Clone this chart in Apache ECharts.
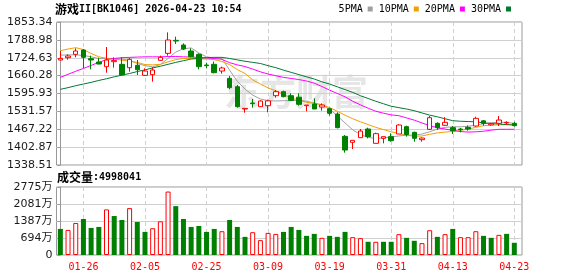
<!DOCTYPE html>
<html><head><meta charset="utf-8">
<script src="https://cdn.jsdelivr.net/npm/echarts@6/dist/echarts.min.js"></script>
<style>html,body{margin:0;padding:0;background:#fff}#c{width:578px;height:276px}</style>
</head><body><div id="c"></div>
<script>
const dates = ['01-21','01-22','01-23','01-26','01-27','01-28','01-29','01-30','02-02','02-03',
 '02-04','02-05','02-06','02-09','02-10','02-11','02-12','02-13','02-24','02-25',
 '02-26','02-27','03-02','03-03','03-04','03-05','03-06','03-09','03-10','03-11',
 '03-12','03-13','03-16','03-17','03-18','03-19','03-20','03-23','03-24','03-25',
 '03-26','03-27','03-30','03-31','04-01','04-02','04-03','04-07','04-08','04-09',
 '04-10','04-13','04-14','04-15','04-16','04-17','04-20','04-21','04-22','04-23'];
const opens = [1716.5,1724.9,1736.9,1752.5,1721.3,1709.3,1692.5,1710.5,1700.9,1688.9,
 1697.3,1661.3,1663.7,1715.3,1740.5,1787.3,1770.5,1748.9,1736.9,1698.5,
 1700.9,1676.9,1650.5,1620.5,1540.1,1561.7,1548.5,1552.1,1588.1,1602.5,
 1588.1,1582.7,1552.1,1558.1,1547.3,1541.3,1522.1,1441.7,1420.1,1436.9,
 1468.1,1416.5,1434.5,1440.5,1450.1,1476.5,1456.1,1429.7,1466.9,1488.5,
 1481.3,1472.9,1468.0,1474.0,1478.9,1497.5,1483.0,1488.5,1490.0,1488.5];
const closes = [1722.5,1730.9,1748.9,1726.1,1716.5,1702.1,1716.5,1715.0,1662.5,1718.9,
 1681.7,1676.9,1680.5,1726.1,1788.5,1784.9,1756.1,1728.5,1692.5,1696.1,
 1670.9,1687.7,1616.9,1548.5,1542.5,1559.3,1568.9,1569.5,1602.5,1584.5,
 1571.3,1556.9,1554.5,1540.1,1554.5,1524.5,1472.9,1392.5,1427.3,1460.9,
 1440.5,1451.3,1440.5,1426.1,1482.5,1448.0,1434.5,1435.5,1508.9,1472.9,
 1492.1,1462.0,1466.0,1468.0,1506.5,1488.5,1487.0,1500.5,1492.0,1480.1];
const lows = [1715.3,1717.7,1726.1,1686.5,1682.9,1700.9,1670.9,1688.9,1662.5,1674.5,
 1662.5,1658.9,1638.5,1712.9,1732.1,1774.1,1752.5,1726.1,1682.9,1686.5,
 1668.5,1667.3,1610.9,1544.9,1526.9,1544.9,1548.5,1528.1,1580.9,1582.1,
 1568.9,1552.1,1531.7,1540.1,1534.1,1516.1,1470.5,1382.9,1396.1,1436.9,
 1434.5,1416.5,1416.5,1422.5,1450.1,1440.5,1422.5,1422.5,1464.5,1464.5,
 1480.1,1450.1,1456.0,1462.0,1476.5,1480.1,1480.0,1479.0,1483.0,1476.5];
const highs = [1748.9,1736.9,1758.5,1756.1,1732.1,1724.9,1763.3,1726.1,1726.1,1724.9,
 1716.5,1686.5,1690.1,1732.1,1816.1,1800.5,1776.5,1758.5,1740.5,1706.9,
 1710.5,1692.5,1658.9,1626.5,1542.5,1576.1,1571.3,1573.7,1608.5,1606.1,
 1596.5,1596.5,1554.5,1578.5,1560.5,1545.0,1528.1,1446.5,1427.3,1468.1,
 1472.9,1454.9,1440.5,1452.5,1484.9,1480.1,1458.5,1438.1,1514.9,1492.1,
 1510.7,1478.9,1472.0,1481.0,1512.5,1500.5,1490.0,1514.9,1496.0,1494.5];
// volume in 万
const volumes = [1064,1023,1307,1469,1105,1145,1861,1590,1428,1913,
 1347,943,1092,1375,2589,1994,1469,1145,1185,943,
 1064,971,1428,1145,740,930,607,902,862,943,
 1145,1023,781,862,700,781,741,944,728,688,
 539,539,539,539,850,700,580,485,1011,741,
 850,1065,728,728,971,781,700,822,862,499];
const volUp = [0,1,1,0,0,0,1,0,0,1, 0,0,1,1,1,0,0,0,0,0, 0,1,0,0,0,1,1,1,1,0,
 0,0,0,0,1,0,0,0,1,1, 0,1,0,0,1,0,0,1,1,0, 1,0,1,1,1,0,0,1,0,0];
const ma5 = [1734,1735,1735,1733,1728,1722,1722,1722,1720,1715,
 1704,1696,1692,1700,1722,1745,1757,1760,1742,1728,
 1724,1722,1680,1640,1612,1590,1576,1570,1569,1570,
 1570,1572,1568,1562,1554,1540,1515,1490,1465,1448,
 1438,1434,1436,1440,1443,1446,1446,1450,1458,1468,
 1474,1476,1476,1478,1482,1487,1491,1492,1492,1488];
const ma10 = [1750,1756,1761,1754,1740,1728,1723,1720,1716,1712,
 1708,1700,1699,1701,1710,1718,1722,1722,1720,1720,
 1718,1711,1700,1682,1668,1645,1630,1616,1606,1592,
 1580,1572,1564,1560,1556,1545,1532,1518,1505,1494,
 1484,1474,1466,1458,1452,1446,1442,1443,1449,1454,
 1457,1459,1463,1468,1474,1480,1482,1483,1484,1485];
const ma20 = [1654,1665,1676,1686,1697,1708,1718,1722,1725,1726,
 1727,1728,1728,1728,1729,1729,1728,1727,1726,1724,
 1722,1719,1707,1699,1693,1684,1674,1666,1660,1654,
 1650,1646,1641,1633,1621,1608,1596,1584,1568,1555,
 1543,1532,1525,1519,1516,1508,1500,1490,1480,1473,
 1468,1463,1459,1457,1458,1460,1464,1467,1467,1467];
const ma30 = [1611,1617,1624,1630,1636,1643,1649,1656,1662,1668,
 1675,1681,1688,1694,1701,1708,1714,1720,1723,1725,
 1726,1726,1722,1717,1712,1708,1704,1696,1689,1680,
 1672,1664,1656,1648,1638,1630,1620,1610,1600,1588,
 1578,1568,1559,1550,1545,1540,1534,1526,1518,1512,
 1505,1498,1496,1495,1494,1490,1488,1486,1484,1482];
const yTickLabels = ['1338.51','1402.87','1467.22','1531.57','1595.93','1660.28','1724.63','1788.98','1853.34'];
const volTickLabels = ['0','694万','1387万','2081万','2775万'];
const xLabelDates = ['01-26','02-05','02-25','03-09','03-19','03-31','04-13','04-23'];
const maNames = ['5PMA','10PMA','20PMA','30PMA'];
const titleText = '游戏II[BK1046] 2026-04-23 10:54';
const volTitle = '成交量:4998041';

const MONO = '"DejaVu Sans Mono", "Liberation Mono", monospace';
const CJK = '"Noto Sans CJK SC", sans-serif';
const LAB = '"DejaVu Sans", "Noto Sans CJK SC", sans-serif';
const maColors = ['#a0a0a0','#f0a000','#ff00ff','#007a33'];
const xTickIdx = xLabelDates.map(d => dates.indexOf(d));
const yMin = parseFloat(yTickLabels[0]), yMax = parseFloat(yTickLabels[yTickLabels.length-1]);
const vMax = parseFloat(volTickLabels[volTickLabels.length-1]);
// split a string into CJK / ASCII rich-text runs
const toRich = s => s.replace(/([\u4e00-\u9fff]+)|([^\u4e00-\u9fff]+)/g, (m, a, b) => a ? '{c|' + a + '}' : '{m|' + b + '}');
const richStyle = {c:{fontSize:12, fontFamily:CJK, color:'#000'}, m:{fontSize:10, fontFamily:MONO, color:'#000'}};

const chart = echarts.init(document.getElementById('c'), null, {renderer:'canvas'});
const gridLine = {color:'#d0d0d0', width:1};
const xBase = (gi, showLabel) => ({
  type:'value', gridIndex:gi, min:-0.5, max:dates.length,
  axisLine:{show:false},
  axisTick:{show:false, customValues:xTickIdx},
  axisLabel:{show:showLabel, customValues:xTickIdx, color:'#ff0000', fontSize:10, fontFamily:MONO, margin:7,
    formatter:v => dates[Math.round(v)]},
  splitLine:{show:true, lineStyle:{color:'#d0d0d0', type:[4,3]}}
});
const maSeries = [ma5, ma10, ma20, ma30].map((arr, k) => ({
  name: maNames[k], type:'line', xAxisIndex:0, yAxisIndex:0, showSymbol:false, symbol:'none',
  data: arr.map((v,i)=>[i,v]), lineStyle:{width:1, color:maColors[k]}, itemStyle:{color:maColors[k]},
  z: 3, animation:false
}));
chart.setOption({
  animation:false,
  title:[
    {text:toRich(titleText), left:55, top:3, padding:0, textStyle:{rich:richStyle}},
    {text:toRich(volTitle), left:57, top:171, padding:0, textStyle:{rich:richStyle}}
  ],
  legend:{data:maNames, right:67, top:4, padding:0, icon:'rect', itemWidth:5, itemHeight:5, itemGap:6, align:'right',
    selectedMode:false, textStyle:{fontSize:10, color:'#000', fontFamily:MONO}},
  graphic:[{type:'text', left:224, top:74, z:-10, silent:true,
    style:{text:'东方财富', fill:'#e6e6e6', font:'bold 36px "Noto Sans CJK SC"'}}],
  grid:[
    {left:56.5, right:56, top:22, height:143, show:true, borderColor:'#999', borderWidth:1, backgroundColor:'transparent'},
    {left:56.5, right:56, top:187, height:68, show:true, borderColor:'#999', borderWidth:1, backgroundColor:'transparent'}
  ],
  xAxis:[xBase(0,false), xBase(1,true)],
  yAxis:[
    {type:'value', gridIndex:0, min:yMin, max:yMax, interval:(yMax-yMin)/(yTickLabels.length-1),
     axisLine:{show:true, lineStyle:{color:'#999'}}, axisTick:{show:true, length:3, lineStyle:{color:'#999'}},
     axisLabel:{color:'#1a1a1a', fontSize:11, fontFamily:LAB, margin:4, formatter:(v,idx)=>yTickLabels[idx]},
     splitLine:{show:true, lineStyle:gridLine}},
    {type:'value', gridIndex:1, min:0, max:vMax, interval:vMax/(volTickLabels.length-1),
     axisLine:{show:true, lineStyle:{color:'#999'}}, axisTick:{show:true, length:3, lineStyle:{color:'#999'}},
     axisLabel:{color:'#1a1a1a', fontSize:11, fontFamily:LAB, margin:4, formatter:(v,idx)=>volTickLabels[idx]},
     splitLine:{show:true, lineStyle:gridLine}}
  ],
  series:[
    ...maSeries,
    {type:'candlestick', name:'K', xAxisIndex:0, yAxisIndex:0, barWidth:5, z:4,
     data: dates.map((d,i)=>[i, opens[i], closes[i], lows[i], highs[i]]),
     encode:{x:0, y:[1,2,3,4]},
     itemStyle:{color:'#ffffff', color0:'#008000', borderColor:'#ff0000', borderColor0:'#008000', borderWidth:1}},
    {type:'bar', name:'VOL', xAxisIndex:1, yAxisIndex:1, barWidth:5,
     data: volumes.map((v,i)=>({value:[i,v], itemStyle: volUp[i] ? {color:'#ffffff', borderColor:'#ff0000', borderWidth:1} : {color:'#008000'}}))}
  ]
});
</script></body></html>
